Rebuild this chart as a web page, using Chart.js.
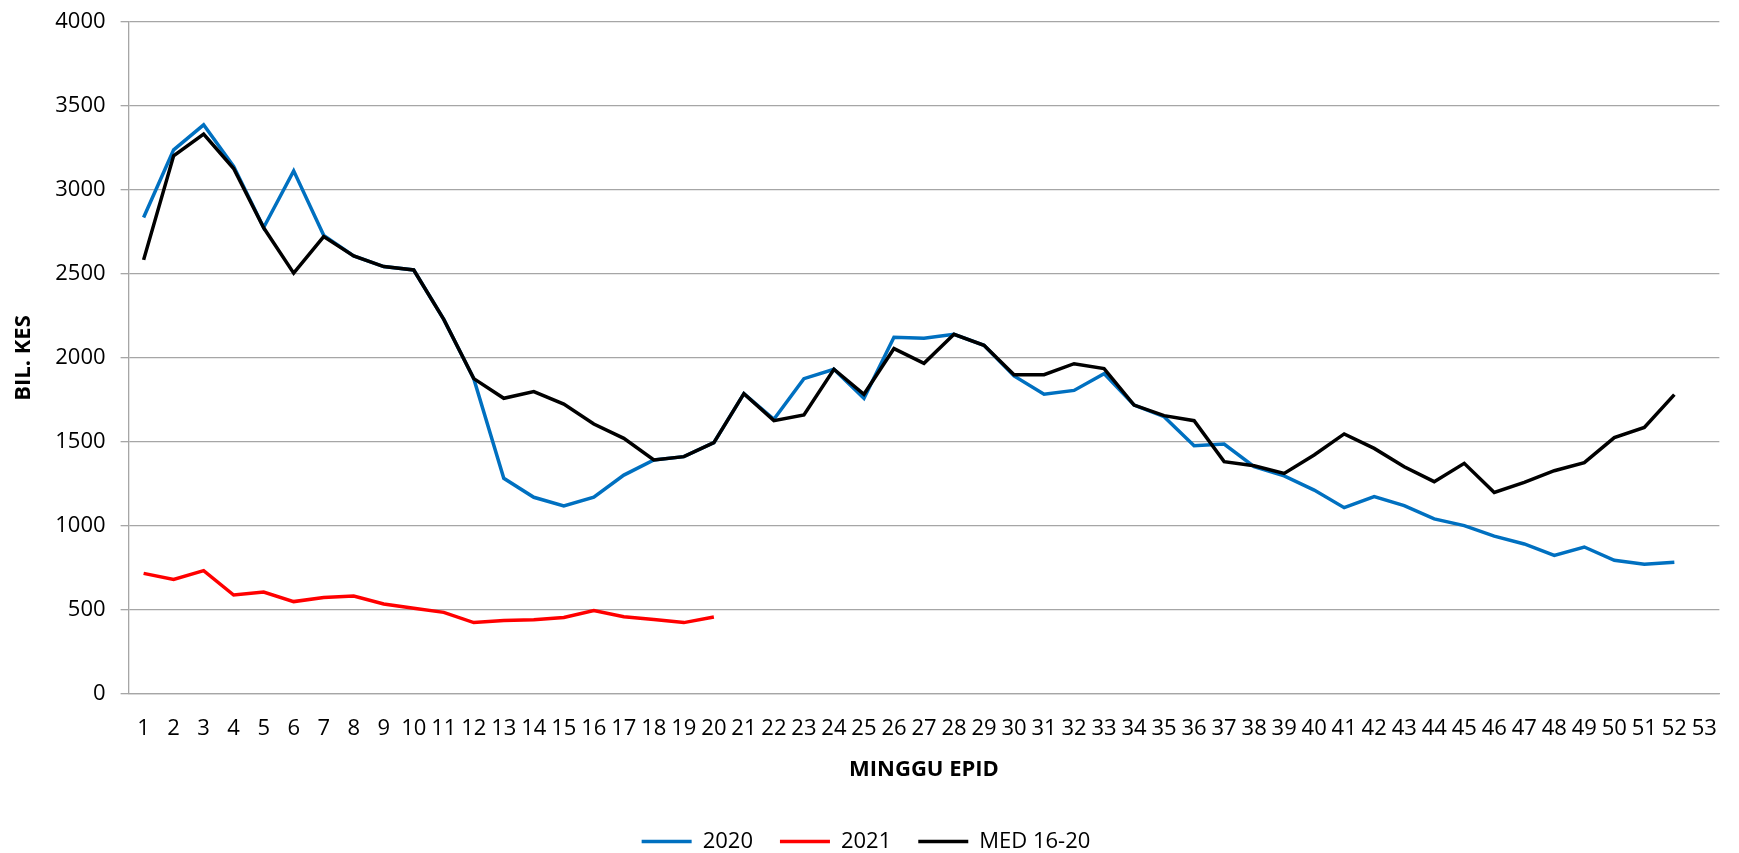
<!DOCTYPE html>
<html>
<head>
<meta charset="utf-8">
<script src="https://cdn.jsdelivr.net/npm/chart.js@4"></script>
<style>
    body { margin: 0; background: #fff; }
    canvas { display: block; }
</style>
</head>
<body>
<canvas id="kesChart" width="1739" height="853"></canvas>
<script>
const weeks = ['1','2','3','4','5','6','7','8','9','10','11','12','13','14','15','16','17','18','19','20',
    '21','22','23','24','25','26','27','28','29','30','31','32','33','34','35','36','37','38','39','40',
    '41','42','43','44','45','46','47','48','49','50','51','52','53'];

const cases2020 = [2836, 3239, 3388, 3140, 2777, 3114, 2730, 2608, 2544, 2524,
    2230, 1877, 1284, 1171, 1119, 1171, 1303, 1393, 1413, 1496,
    1788, 1635, 1877, 1933, 1760, 2123, 2117, 2141, 2076, 1893,
    1784, 1807, 1907, 1720, 1651, 1478, 1488, 1353, 1298, 1214,
    1109, 1175, 1121, 1042, 1002, 940, 893, 825, 875, 796,
    772, 784];

const cases2021 = [718, 682, 734, 589, 607, 550, 575, 583, 536, 510,
    486, 425, 438, 442, 456, 497, 460, 444, 425, 458];

const median1620 = [2584, 3204, 3333, 3128, 2775, 2505, 2723, 2608, 2544, 2524,
    2230, 1877, 1760, 1800, 1726, 1607, 1522, 1393, 1413, 1496,
    1788, 1627, 1661, 1933, 1784, 2056, 1968, 2141, 2076, 1901,
    1901, 1966, 1937, 1720, 1657, 1627, 1383, 1359, 1313, 1423,
    1548, 1462, 1353, 1264, 1373, 1200, 1260, 1329, 1377, 1526,
    1587, 1782];

const yTicks = [0, 500, 1000, 1500, 2000, 2500, 3000, 3500, 4000];

Chart.defaults.font.family = "'Open Sans', sans-serif";
Chart.defaults.font.size = 22;
Chart.defaults.color = '#000';

const gridColor = '#A6A6A6';

const ctx = document.getElementById('kesChart').getContext('2d');

new Chart(ctx, {
    type: 'line',
    data: {
        labels: weeks,
        datasets: [{
            label: '2020',
            data: cases2020,
            borderColor: '#0070C0',
            backgroundColor: '#0070C0',
            borderWidth: 3.5,
            order: 2
        }, {
            label: '2021',
            data: cases2021,
            borderColor: '#FF0000',
            backgroundColor: '#FF0000',
            borderWidth: 3.5,
            order: 1
        }, {
            label: 'MED 16-20',
            data: median1620,
            borderColor: '#000000',
            backgroundColor: '#000000',
            borderWidth: 3.5,
            order: 0
        }]
    },
    options: {
        responsive: false,
        animation: false,
        layout: {
            padding: { top: 22, right: 7, left: 0, bottom: -9.5 }
        },
        elements: {
            line: { tension: 0 },
            point: { radius: 0 }
        },
        plugins: {
            tooltip: { enabled: false },
            legend: {
                position: 'bottom',
                labels: {
                    usePointStyle: true,
                    pointStyle: 'line',
                    pointStyleWidth: 50,
                    boxHeight: 22,
                    padding: 27,
                    font: { size: 22 },
                    sort: (a, b) => a.datasetIndex - b.datasetIndex
                }
            }
        },
        scales: {
            x: {
                offset: true,
                grid: { display: false, drawTicks: false },
                border: { display: true, color: gridColor, width: 1.3 },
                ticks: {
                    autoSkip: false,
                    maxRotation: 0,
                    padding: 22
                },
                title: {
                    display: true,
                    text: 'MINGGU EPID',
                    font: { size: 22, weight: 'bold' },
                    padding: { top: 0, bottom: 21 }
                },
                afterFit: (scale) => { scale.height = 109.5; }
            },
            y: {
                min: 0,
                max: 4000,
                afterBuildTicks: (scale) => {
                    scale.ticks = yTicks.map(v => ({ value: v }));
                },
                grid: {
                    color: gridColor,
                    lineWidth: 1.3,
                    tickLength: 8,
                    tickColor: gridColor
                },
                border: { display: true, color: gridColor, width: 1.3 },
                ticks: {
                    padding: 15,
                    font: { size: 22, lineHeight: 0.5 },
                    callback: (value) => String(value)
                },
                title: {
                    display: true,
                    text: 'BIL. KES',
                    font: { size: 22, weight: 'bold' },
                    padding: { top: 11, bottom: 0 }
                },
                afterFit: (scale) => { scale.width = 128.6; }
            }
        }
    }
});
</script>
</body>
</html>
